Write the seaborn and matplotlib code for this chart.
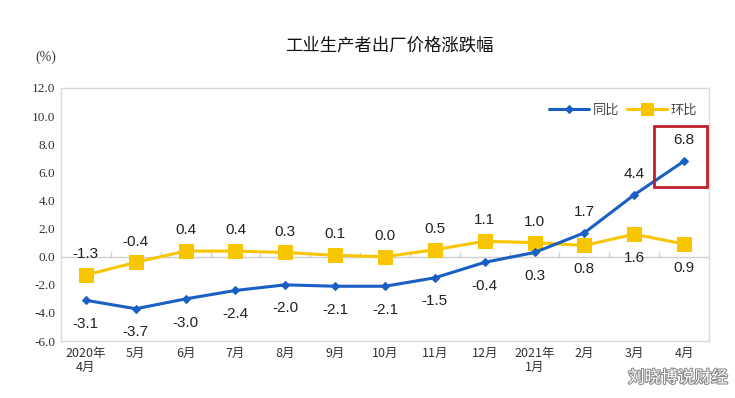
import pandas as pd
import matplotlib.pyplot as plt
import seaborn as sns
from matplotlib.patches import Rectangle
import matplotlib.patheffects as pe

months = ['2020年\n4月', '5月', '6月', '7月', '8月', '9月', '10月', '11月', '12月',
          '2021年\n1月', '2月', '3月', '4月']
yoy = [-3.1, -3.7, -3.0, -2.4, -2.0, -2.1, -2.1, -1.5, -0.4, 0.3, 1.7, 4.4, 6.8]
mom = [-1.3, -0.4, 0.4, 0.4, 0.3, 0.1, 0.0, 0.5, 1.1, 1.0, 0.8, 1.6, 0.9]

df = pd.DataFrame({'idx': range(len(months)), 'yoy': yoy, 'mom': mom})

sns.set_style('white')
plt.rcParams['font.family'] = ['Liberation Sans', 'Noto Sans CJK SC', 'DejaVu Sans']

blue = '#1a5fc4'
yellow = '#f7c600'

fig = plt.figure(figsize=(7.35, 3.98), dpi=100)
ax = fig.add_axes([0.083, 0.143, 0.8816, 0.636])

# zero line with small category ticks
ax.axhline(0, color='#d0d0d0', lw=1, zorder=1)
ax.vlines([i + 0.5 for i in range(len(months) - 1)], 0, 0.3, color='#d0d0d0', lw=1, zorder=1)

sns.lineplot(data=df, x='idx', y='yoy', ax=ax, color=blue, lw=2.2, marker='D',
             markersize=4.5, markeredgecolor=blue, label='同比', zorder=3)
sns.lineplot(data=df, x='idx', y='mom', ax=ax, color=yellow, lw=2.2, marker='s',
             markersize=10, markeredgecolor=yellow, label='环比', zorder=2)

# data labels: below/above depending on which line is on top
for i, v in enumerate(yoy):
    dy = -17 if v < 1 else 15
    ax.annotate(f'{v:.1f}', (i, v), xytext=(0, dy), textcoords='offset points',
                ha='center', va='center', fontsize=11, color='#222222')
for i, v in enumerate(mom):
    dy = 15 if i < 10 else -17
    ax.annotate(f'{v:.1f}', (i, v), xytext=(0, dy), textcoords='offset points',
                ha='center', va='center', fontsize=11, color='#222222')

# red highlight box around the latest value
ax.add_patch(Rectangle((len(months) - 1.61, yoy[-1] - 1.85), 1.08, 4.35, fill=False,
                       edgecolor='#c0202a', lw=2, zorder=4))

ax.set_xlim(-0.5, len(months) - 0.5)
ax.set_ylim(-6, 12)
ax.set_yticks([-6, -4, -2, 0, 2, 4, 6, 8, 10, 12])
ax.set_yticklabels([f'{t:.1f}' for t in ax.get_yticks()], fontsize=9.5,
                   family=['Liberation Serif', 'DejaVu Serif'], color='#333333')
ax.set_xticks(range(len(months)))
ax.set_xticklabels(months, fontsize=9, family=['Noto Sans CJK SC', 'DejaVu Sans'],
                   color='#333333', linespacing=1.1)
ax.tick_params(axis='both', length=0, pad=4)
ax.set_xlabel('')
ax.set_ylabel('')
for s in ax.spines.values():
    s.set_color('#d9d9d9')
    s.set_linewidth(1)

leg = ax.legend(loc='upper right', bbox_to_anchor=(1.0, 0.985), ncol=2, frameon=False,
                handlelength=3, columnspacing=0.6, handletextpad=0.3, markerscale=0.8,
                prop={'family': ['Noto Sans CJK SC', 'DejaVu Sans'], 'size': 9.5})
for t in leg.get_texts():
    t.set_color('#444444')

fig.text(0.53, 0.885, '工业生产者出厂价格涨跌幅', ha='center', va='center', fontsize=12.5,
         family=['Noto Sans CJK SC', 'DejaVu Sans'], color='#111111')
fig.text(0.062, 0.855, '(%)', ha='center', va='center', fontsize=10,
         family=['Liberation Serif', 'DejaVu Serif'], color='#333333')
fig.text(0.99, 0.05, '刘晓博说财经', ha='right', va='center', fontsize=12,
         family=['Noto Sans CJK SC', 'DejaVu Sans'], color='white',
         path_effects=[pe.withStroke(linewidth=1.5, foreground='#888888')])

fig.savefig('out.png', dpi=100)
